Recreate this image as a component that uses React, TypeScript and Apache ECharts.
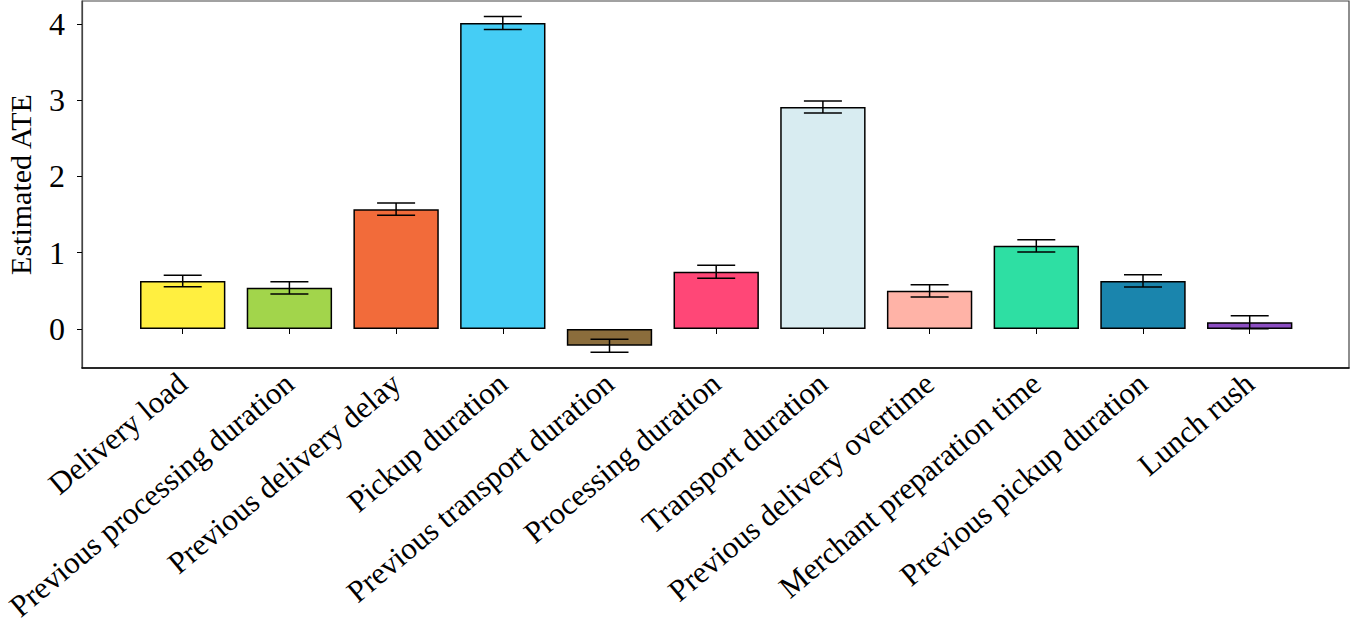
import React, { useEffect, useRef } from "react";
import * as echarts from "echarts";

const categories = [
  "Delivery load",
  "Previous processing duration",
  "Previous delivery delay",
  "Pickup duration",
  "Previous transport duration",
  "Processing duration",
  "Transport duration",
  "Previous delivery overtime",
  "Merchant preparation time",
  "Previous pickup duration",
  "Lunch rush",
];
const values = [0.63, 0.54, 1.57, 4.01, -0.22, 0.75, 2.91, 0.5, 1.09, 0.63, 0.09];
const errors = [0.075, 0.08, 0.08, 0.085, 0.085, 0.085, 0.08, 0.08, 0.08, 0.08, 0.085];
const colors = [
  "#FFEF40",
  "#A2D54B",
  "#F26B3A",
  "#45CDF5",
  "#8B6D3C",
  "#FF4777",
  "#D8ECF1",
  "#FFB3A7",
  "#2EDFA3",
  "#1A85AD",
  "#8C4EC2",
];
const yTicks = [0, 1, 2, 3, 4];
const yMin = -0.511;
const yMax = 4.299;

const FONT = "'Liberation Serif', 'Times New Roman', serif";

export default function App() {
  const ref = useRef<HTMLDivElement>(null);
  useEffect(() => {
    if (!ref.current) return;
    const chart = echarts.init(ref.current, null, { renderer: "svg" });
    const errData = values.map((v, i) => [i, v - errors[i], v + errors[i]]);
    chart.setOption({
      animation: false,
      backgroundColor: "#ffffff",
      grid: [
        {
          left: 82, top: 1, width: 1267, height: 367, show: true,
          borderColor: "#444", borderWidth: 1.2, containLabel: false, outerBoundsMode: "none",
        },
        { left: 129.35, top: 1, width: 1173.7, height: 367, containLabel: false, outerBoundsMode: "none" },
      ],
      xAxis: [
        {
          gridIndex: 0,
          type: "value",
          min: 0,
          max: 1,
          axisLine: { show: true, onZero: false, lineStyle: { color: "#000", width: 1.5 } },
          axisTick: { show: false },
          axisLabel: { show: false },
          splitLine: { show: false },
        },
        {
          gridIndex: 1,
          type: "category",
          data: categories,
          boundaryGap: true,
          axisLine: { show: false },
          axisTick: { show: true, alignWithLabel: true, length: 5, lineStyle: { color: "#000", width: 1 } },
          axisLabel: {
            interval: 0,
            rotate: 40,
            margin: 11,
            fontSize: 31,
            color: "#000",
            fontFamily: FONT,
          },
          splitLine: { show: false },
        },
      ],
      yAxis: [
        {
          gridIndex: 0,
          type: "value",
          min: yMin,
          max: yMax,
          name: "Estimated ATE",
          nameLocation: "middle",
          nameGap: 47,
          nameTextStyle: { fontSize: 30, color: "#000", fontFamily: FONT },
          axisLine: { show: true, onZero: false, lineStyle: { color: "#444", width: 1.2 } },
          axisTick: { show: true, length: 5, customValues: yTicks, lineStyle: { color: "#000" } },
          axisLabel: { customValues: yTicks, fontSize: 32, color: "#000", fontFamily: FONT, margin: 17 },
          splitLine: { show: false },
        },
        {
          gridIndex: 1,
          type: "value",
          min: yMin,
          max: yMax,
          show: false,
          splitLine: { show: false },
        },
      ],
      series: [
        {
          type: "bar",
          xAxisIndex: 1,
          yAxisIndex: 1,
          barWidth: "80%",
          data: values.map((v, i) => ({
            value: v,
            itemStyle: { color: colors[i], borderColor: "#000", borderWidth: 1.5 },
          })),
        },
        {
          type: "custom",
          xAxisIndex: 1,
          yAxisIndex: 1,
          data: errData,
          encode: { x: 0, y: [1, 2] },
          z: 5,
          renderItem: (params: any, api: any) => {
            const lo = api.coord([api.value(0), api.value(1)]);
            const hi = api.coord([api.value(0), api.value(2)]);
            const hw = 19;
            const style = { stroke: "#000", lineWidth: 1.5 };
            return {
              type: "group",
              children: [
                { type: "line", shape: { x1: lo[0], y1: lo[1], x2: hi[0], y2: hi[1] }, style },
                { type: "line", shape: { x1: lo[0] - hw, y1: lo[1], x2: lo[0] + hw, y2: lo[1] }, style },
                { type: "line", shape: { x1: hi[0] - hw, y1: hi[1], x2: hi[0] + hw, y2: hi[1] }, style },
              ],
            };
          },
        },
      ],
    });
    return () => chart.dispose();
  }, []);
  return (
    <div
      ref={ref}
      style={{ position: "absolute", left: 0, top: 0, width: 1350, height: 624 }}
    />
  );
}
